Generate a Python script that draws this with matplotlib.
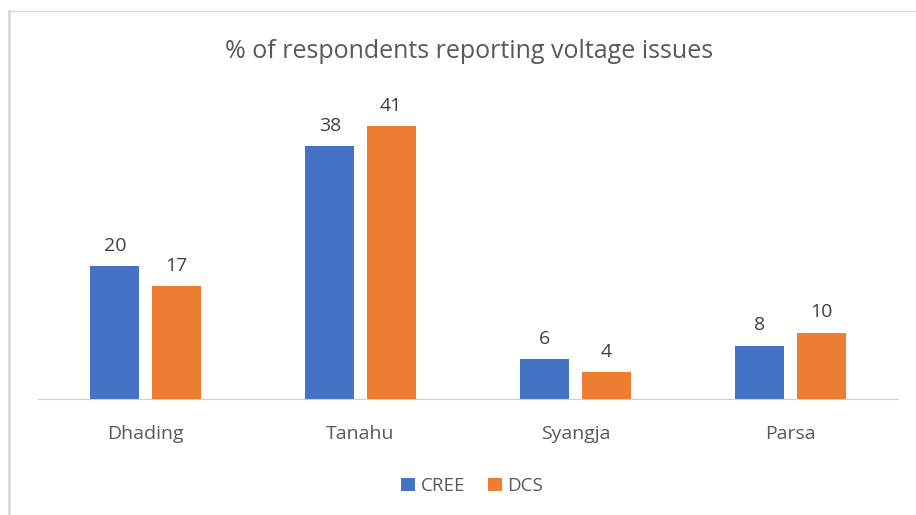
import matplotlib.pyplot as plt
import numpy as np

districts = ['Dhading', 'Tanahu', 'Syangja', 'Parsa']
cree = [20, 38, 6, 8]
dcs = [17, 41, 4, 10]

plt.rcParams['font.family'] = ['Open Sans', 'DejaVu Sans']
txt = '#595959'

fig = plt.figure(figsize=(9.16, 5.15), dpi=100)
ax = fig.add_axes([38/916, 1-399/515, 860/916, 310/515])

x = np.arange(len(districts))
w = 0.228
off = 0.142
b1 = ax.bar(x - off, cree, w, color='#4472C4', label='CREE')
b2 = ax.bar(x + off, dcs, w, color='#ED7D31', label='DCS')
for bars in (b1, b2):
    for b in bars:
        ax.text(b.get_x() + b.get_width()/2, b.get_height() + 1.7, str(int(b.get_height())),
                ha='center', va='bottom', fontsize=14, color='#404040')

ax.set_xlim(-0.5, 3.5)
ax.set_ylim(0, 310/6.65)
ax.set_yticks([])
ax.set_xticks(x)
ax.set_xticklabels(districts, fontsize=14, color=txt)
ax.tick_params(axis='x', length=0, pad=19)
for s in ['top', 'right', 'left']:
    ax.spines[s].set_visible(False)
ax.spines['bottom'].set_color('#d0d0d0')

fig.text(469/916, 1-52/515, '% of respondents reporting voltage issues',
         ha='center', va='center', fontsize=18, color=txt)

leg = fig.legend(handles=[b1, b2], loc='center', bbox_to_anchor=(472/916, 1-486/515),
                 ncol=2, frameon=False, fontsize=13.5, handlelength=0.75, handleheight=0.75,
                 columnspacing=1.2, handletextpad=0.3)
for t in leg.get_texts():
    t.set_color(txt)

# chart frame: only top and left edges are visible in the crop
fig.add_artist(plt.Line2D([9/916, 1], [1-11/515, 1-11/515], transform=fig.transFigure,
                          color='#d9d9d9', linewidth=1))
fig.add_artist(plt.Line2D([9/916, 9/916], [0, 1-11/515], transform=fig.transFigure,
                          color='#d9d9d9', linewidth=2))

fig.savefig('out.png', dpi=100)
